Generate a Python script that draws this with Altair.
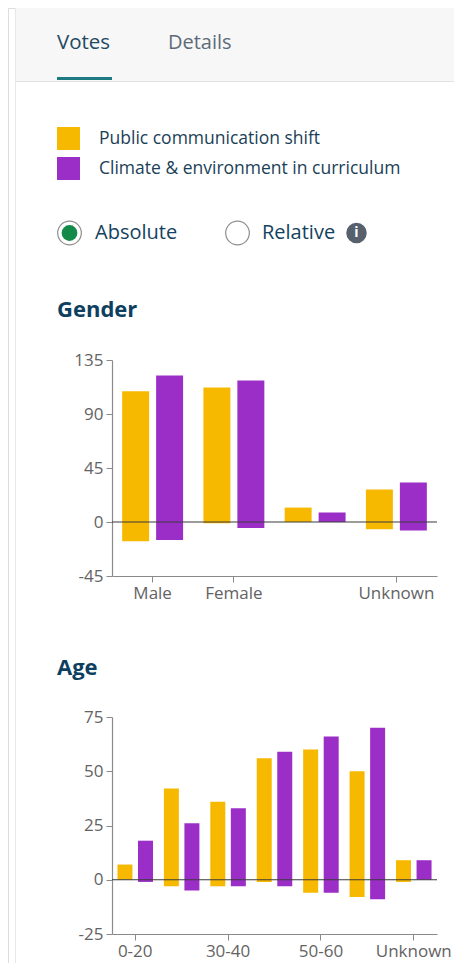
import altair as alt
import pandas as pd

FONT = "Open Sans"

series = ["Public communication shift", "Climate & environment in curriculum"]
series_colors = ["#f7b900", "#9b2ec6"]

gender_categories = ["Male", "Female", "Other", "Unknown"]
gender_tick_labels = ["Male", "Female", "Unknown"]
gender_ticks = [-45, 0, 45, 90, 135]
gender_public_pos = [109, 112, 12, 27]
gender_public_neg = [-16, -1, 0, -6]
gender_climate_pos = [122, 118, 8, 33]
gender_climate_neg = [-15, -5, 0, -7]

age_categories = ["0-20", "20-30", "30-40", "40-50", "50-60", "60+", "Unknown"]
age_tick_labels = ["0-20", "30-40", "50-60", "Unknown"]
age_ticks = [-25, 0, 25, 50, 75]
age_public_pos = [7, 42, 36, 56, 60, 50, 9]
age_public_neg = [0, -3, -3, -1, -6, -8, -1]
age_climate_pos = [18, 26, 33, 59, 66, 70, 9]
age_climate_neg = [-1, -5, -3, -3, -6, -9, 0]

W, H = 446, 955


def frame(cats, pub_pos, pub_neg, cli_pos, cli_neg):
    rows = []
    for i, c in enumerate(cats):
        rows.append(dict(cat=c, series=series[0], pos=pub_pos[i], neg=pub_neg[i]))
        rows.append(dict(cat=c, series=series[1], pos=cli_pos[i], neg=cli_neg[i]))
    return pd.DataFrame(rows)


gender_df = frame(gender_categories, gender_public_pos, gender_public_neg,
                  gender_climate_pos, gender_climate_neg)
age_df = frame(age_categories, age_public_pos, age_public_neg,
               age_climate_pos, age_climate_neg)

color = alt.Color(
    "series:N",
    scale=alt.Scale(domain=series, range=series_colors),
    legend=alt.Legend(
        title=None, orient="none", legendX=49, legendY=119,
        symbolType="square", symbolSize=529, symbolStrokeWidth=0,
        symbolOpacity=1, labelFontSize=17.5, labelFont=FONT,
        labelColor="#1b3f57", labelOffset=19, rowPadding=7, padding=0,
        labelLimit=400,
    ),
)

axis_style = dict(
    title=None, grid=False, labelFont=FONT, labelFontSize=17,
    labelColor="#636363", domainColor="#8a8a8a", tickColor="#8a8a8a",
    tickSize=6, labelPadding=3, domainWidth=1.2,
)


def bar_panel(df, cats, tick_labels, ticks, x_range, y_range, pad_inner,
              off_inner):
    y_dom = [ticks[0], ticks[-1]]
    bars = alt.Chart(df).mark_bar().encode(
        x=alt.X(
            "cat:N", sort=cats,
            scale=alt.Scale(domain=cats, range=x_range,
                            paddingInner=pad_inner, paddingOuter=pad_inner / 2),
            axis=alt.Axis(orient="bottom", offset=y_range[0] - H,
                          values=tick_labels, labelAngle=0, **axis_style),
        ),
        xOffset=alt.XOffset(
            "series:N", sort=series,
            scale=alt.Scale(domain=series, paddingInner=off_inner,
                            paddingOuter=0),
        ),
        y=alt.Y(
            "pos:Q",
            scale=alt.Scale(domain=y_dom, range=y_range, nice=False, zero=False),
            axis=alt.Axis(orient="left", offset=-x_range[0], values=ticks,
                          labelExpr="(datum.value < 0 ? '-' : '') + abs(datum.value)",
                          **axis_style),
        ),
        y2="neg:Q",
        color=color,
    )
    zero = alt.Chart(pd.DataFrame({"z": [0]})).mark_rule(
        color="#3a3a3a", strokeWidth=1.2
    ).encode(
        y=alt.datum(0),
        x=alt.value(x_range[0]),
        x2=alt.value(x_range[1]),
    )
    return alt.layer(bars, zero)


gender = bar_panel(gender_df, gender_categories, gender_tick_labels,
                   gender_ticks, [104, 429], [568, 352], 0.25, 0.206)
age = bar_panel(age_df, age_categories, age_tick_labels, age_ticks,
                [104, 429], [926, 709], 0.235, 0.27)

one = pd.DataFrame({"a": [0]})


def rect(x, x2, y, y2, fill):
    return alt.Chart(one).mark_rect(fill=fill).encode(
        x=alt.value(x), x2=alt.value(x2), y=alt.value(y), y2=alt.value(y2))


def text(label, x, y, size, color_, weight="normal", align="left"):
    return alt.Chart(one).mark_text(
        text=label, font=FONT, fontSize=size, color=color_, fontWeight=weight,
        align=align, baseline="middle",
    ).encode(x=alt.value(x), y=alt.value(y))


def dot(x, y, size, fill, stroke=None, sw=0):
    kw = dict(shape="circle", size=size, fill=fill, opacity=1,
              strokeWidth=sw, filled=True)
    if stroke:
        kw["stroke"] = stroke
    return alt.Chart(one).mark_point(**kw).encode(x=alt.value(x),
                                                  y=alt.value(y))


ui = [
    rect(7, W, 0, 73, "#f7f7f8"),
    rect(7, W, 73, 74, "#e2e2e4"),
    rect(7, 8, 0, H, "#e8e8ea"),
    rect(49, 104, 69, 72, "#1d7a80"),
    text("Votes", 49, 35, 20.5, "#23495f"),
    text("Details", 160, 35, 20, "#5d6b78"),
    dot(61.5, 225, 560, "#ffffff", "#8f8f8f", 1.2),
    dot(61.5, 225, 250, "#138a48"),
    text("Absolute", 87, 225, 20, "#13425e"),
    dot(229.5, 225, 560, "#ffffff", "#8f8f8f", 1.2),
    text("Relative", 254, 225, 20, "#13425e"),
    dot(348.5, 225, 420, "#56616d"),
    text("i", 348.5, 225, 14, "#ffffff", weight="bold", align="center"),
    text("Gender", 49, 302, 22, "#0e3f5f", weight="bold"),
    text("Age", 49, 660, 22, "#0e3f5f", weight="bold"),
]

chart = alt.layer(*ui, gender, age).resolve_scale(
    x="independent", y="independent", xOffset="independent"
).properties(
    width=W, height=H,
    autosize=alt.AutoSizeParams(type="none"),
    padding=0,
).configure_view(stroke=None).configure(font=FONT, background="#ffffff")

chart.save("out.html", embed_options={"renderer": "svg", "actions": False})
